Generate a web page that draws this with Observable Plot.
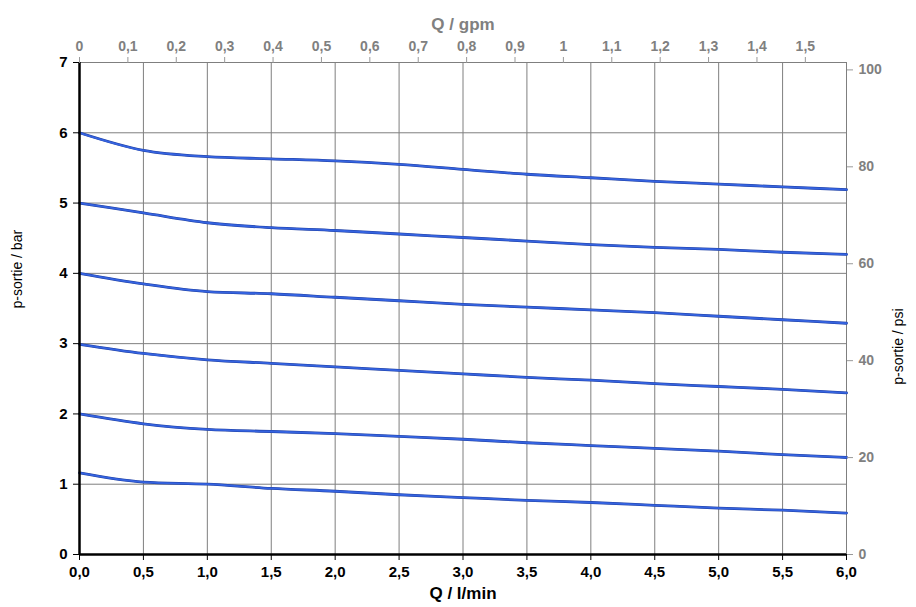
<!DOCTYPE html>
<html><head><meta charset="utf-8">
<script src="https://cdn.jsdelivr.net/npm/d3@7"></script>
<script src="https://cdn.jsdelivr.net/npm/@observablehq/plot@0.6"></script>
<style>
body{margin:0;background:#fff;font-family:"Liberation Sans",Arial,sans-serif;}
</style></head><body><div id="chart"></div>
<script>
const flow = [0,0.5,1.0,1.5,2.0,2.5,3.0,3.5,4.0,4.5,5.0,5.5,6.0];
const p6 = [6.00,5.75,5.66,5.63,5.60,5.55,5.48,5.41,5.36,5.31,5.27,5.23,5.19];
const p5 = [5.00,4.86,4.72,4.65,4.61,4.56,4.51,4.46,4.41,4.37,4.34,4.30,4.27];
const p4 = [4.00,3.85,3.74,3.71,3.66,3.61,3.56,3.52,3.48,3.44,3.39,3.34,3.29];
const p3 = [2.99,2.86,2.77,2.72,2.67,2.62,2.57,2.52,2.48,2.43,2.39,2.35,2.30];
const p2 = [2.00,1.86,1.78,1.75,1.72,1.68,1.64,1.59,1.55,1.51,1.47,1.42,1.38];
const p1 = [1.16,1.03,1.00,0.94,0.90,0.85,0.81,0.77,0.74,0.70,0.66,0.63,0.59];
const curves = [p6,p5,p4,p3,p2,p1];
const xTicks = [0,0.5,1,1.5,2,2.5,3,3.5,4,4.5,5,5.5,6];
const yTicks = [0,1,2,3,4,5,6,7];
const gpmTicks = [0,0.1,0.2,0.3,0.4,0.5,0.6,0.7,0.8,0.9,1,1.1,1.2,1.3,1.4,1.5];
const psiTicks = [0,20,40,60,80,100];
const LPM_PER_GPM = 3.785411784;
const PSI_PER_BAR = 14.5037738;

const rows = [];
curves.forEach((c,i)=>c.forEach((p,j)=>rows.push({s:i,q:flow[j],p})));
const comma = (d,dec)=>d.toFixed(dec).replace(".",",");

const chart = Plot.plot({
  width:916, height:607,
  marginLeft:79, marginRight:70, marginTop:62, marginBottom:53,
  style:{fontFamily:"'Liberation Sans', Arial, sans-serif", background:"#fff"},
  x:{domain:[0,6]},
  y:{domain:[0,7]},
  marks:[
    Plot.gridX(xTicks,{stroke:"#7f7f7f", strokeOpacity:1, strokeWidth:1}),
    Plot.gridY(yTicks,{stroke:"#7f7f7f", strokeOpacity:1, strokeWidth:1}),
    Plot.ruleY([7],{stroke:"#7f7f7f", strokeWidth:1}),
    Plot.ruleX([6],{stroke:"#7f7f7f", strokeWidth:1}),
    Plot.line(rows,{x:"q", y:"p", z:"s", curve:"monotone-x", stroke:"#1f3fa0", strokeWidth:2.8}),
    Plot.line(rows,{x:"q", y:"p", z:"s", curve:"monotone-x", stroke:"#3563e0", strokeWidth:1.8}),
    Plot.ruleX([0],{stroke:"#000", strokeWidth:2.5}),
    Plot.ruleY([0],{stroke:"#000", strokeWidth:2.5}),
    Plot.axisX(xTicks,{anchor:"bottom", tickFormat:d=>comma(d,1), tickSize:6, tickPadding:6,
      fontSize:15, fontWeight:"bold", color:"#000", label:null}),
    Plot.axisY(yTicks,{anchor:"left", tickFormat:d=>String(d), tickSize:6, tickPadding:6,
      fontSize:15, fontWeight:"bold", color:"#000", label:null}),
    Plot.axisX(gpmTicks.map(g=>g*LPM_PER_GPM),{anchor:"top", tickFormat:(d,i)=>comma(gpmTicks[i], gpmTicks[i]===0||gpmTicks[i]===1?0:1),
      tickSize:6, tickPadding:6, fontSize:14, fontWeight:"bold", color:"#808080", stroke:"#999", label:null}),
    Plot.axisY(psiTicks.map(v=>v/PSI_PER_BAR),{anchor:"right", tickFormat:(d,i)=>String(psiTicks[i]),
      tickSize:6, tickPadding:6, fontSize:14, fontWeight:"bold", color:"#808080", stroke:"#999", label:null}),
    Plot.text(["Q / l/min"],{frameAnchor:"bottom", dy:44, fontSize:17, fontWeight:"bold", fill:"#000"}),
    Plot.text(["Q / gpm"],{frameAnchor:"top", dy:-45, fontSize:17, fontWeight:"bold", fill:"#808080"}),
    Plot.text(["p-sortie / bar"],{frameAnchor:"left", dx:-62, rotate:-90, fontSize:14, fill:"#000"}),
    Plot.text(["p-sortie / psi"],{frameAnchor:"right", dx:52, rotate:-90, fontSize:14, fill:"#000"})
  ]
});
document.getElementById("chart").appendChild(chart);
</script></body></html>
